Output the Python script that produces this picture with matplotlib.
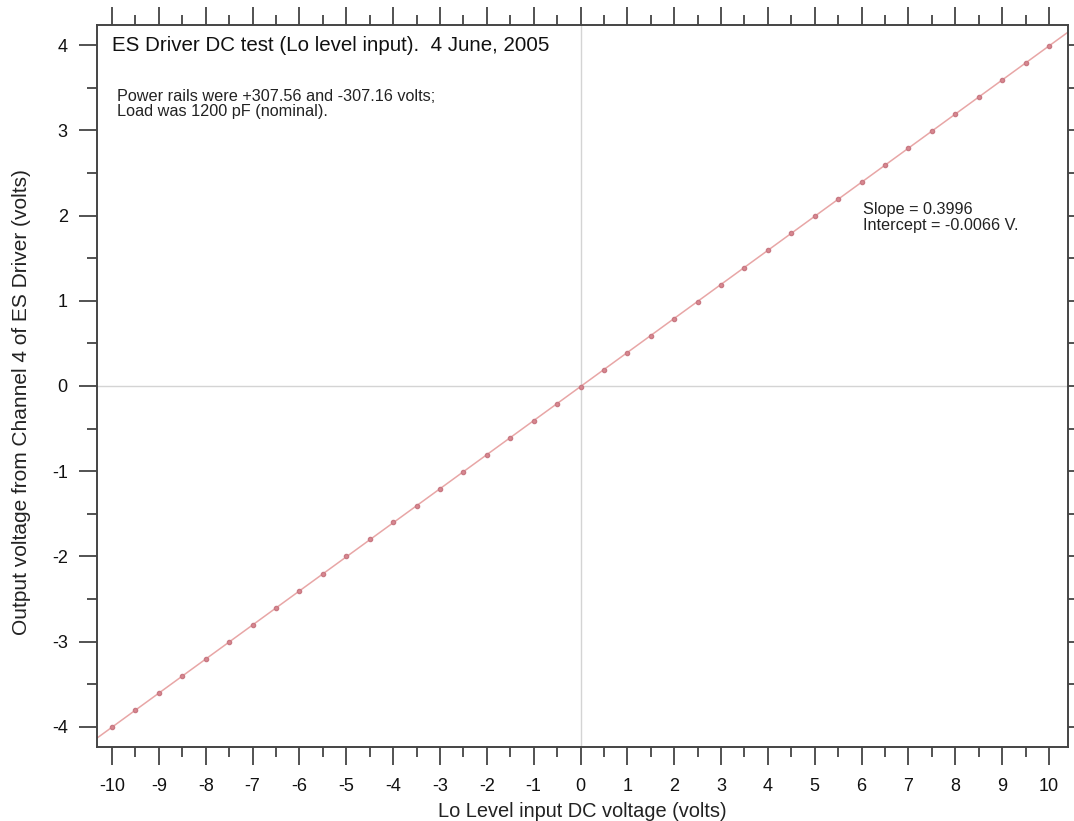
import matplotlib
matplotlib.use("Agg")
import matplotlib.pyplot as plt
from matplotlib.ticker import MultipleLocator

plt.rcParams['font.family'] = ['Liberation Sans', 'DejaVu Sans']
plt.rcParams['axes.unicode_minus'] = False

# input voltage (volts)
vin = [-10, -9.5, -9, -8.5, -8, -7.5, -7, -6.5, -6, -5.5, -5, -4.5, -4, -3.5, -3, -2.5,
       -2, -1.5, -1, -0.5, 0, 0.5, 1, 1.5, 2, 2.5, 3, 3.5, 4, 4.5, 5, 5.5, 6, 6.5, 7,
       7.5, 8, 8.5, 9, 9.5, 10]
# output voltage (volts)
vout = [-4.00, -3.80, -3.60, -3.40, -3.20, -3.00, -2.80, -2.60, -2.40, -2.20, -2.00,
        -1.80, -1.60, -1.41, -1.21, -1.01, -0.81, -0.61, -0.41, -0.21, -0.01, 0.19,
        0.39, 0.59, 0.79, 0.99, 1.19, 1.39, 1.59, 1.79, 1.99, 2.19, 2.39, 2.59, 2.79,
        2.99, 3.19, 3.39, 3.59, 3.79, 3.99]
slope = 0.3996
intercept = -0.0066

fig = plt.figure(figsize=(10.74, 8.21), dpi=100)
ax = fig.add_axes([97/1074, 1 - 747/821, 971/1074, 722/821])

ax.axhline(0, color='#d4d4d4', lw=1, zorder=1)
ax.axvline(0, color='#d4d4d4', lw=1, zorder=1)
ax.axline((0, intercept), slope=slope, color='#e8a6a6', lw=1.1, zorder=2)
ax.plot(vin, vout, 'o', ms=3, color='#d98890', mec='#c97a84', zorder=3)

ax.set_xlim(-10.32, 10.405)
ax.set_ylim(-4.235, 4.235)

ax.xaxis.set_major_locator(MultipleLocator(1))
ax.xaxis.set_minor_locator(MultipleLocator(0.5))
ax.yaxis.set_major_locator(MultipleLocator(1))
ax.yaxis.set_minor_locator(MultipleLocator(0.5))
ax.tick_params(which='both', direction='out', top=True, right=True,
               color='#444444', width=1.3, labelsize=13, labelcolor='#111111')
ax.tick_params(which='major', length=13)
ax.tick_params(which='minor', length=7)
ax.tick_params(axis='x', pad=9)
ax.tick_params(axis='y', pad=8)
for s in ax.spines.values():
    s.set_linewidth(1.4)
    s.set_color('#444444')

ax.set_xlabel('Lo Level input DC voltage (volts)', fontsize=14.4, color='#222222', labelpad=5)
ax.set_ylabel('Output voltage from Channel 4 of ES Driver (volts)', fontsize=15,
              color='#222222')
ax.yaxis.set_label_coords(-0.068, 0.478)

ax.text(0.0155, 0.972, 'ES Driver DC test (Lo level input).  4 June, 2005',
        transform=ax.transAxes, fontsize=14.8, va='center', ha='left', color='#111111')
ax.text(0.0206, 0.890, 'Power rails were +307.56 and -307.16 volts;\nLoad was 1200 pF (nominal).',
        transform=ax.transAxes, fontsize=11.7, va='center', ha='left', color='#222222',
        linespacing=1.0)
ax.text(0.789, 0.733, 'Slope = 0.3996\nIntercept = -0.0066 V.',
        transform=ax.transAxes, fontsize=11.7, va='center', ha='left', color='#222222',
        linespacing=1.05)

fig.savefig('out.png', dpi=100)
